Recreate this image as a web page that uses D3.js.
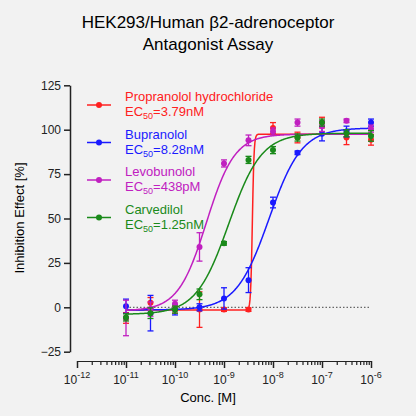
<!DOCTYPE html>
<html><head><meta charset="utf-8">
<script src="https://cdn.jsdelivr.net/npm/d3@7"></script>
<style>body{margin:0;background:#f2f2f2}svg{font-family:Arial,"Liberation Sans",sans-serif}</style>
</head><body><svg id="c" width="416" height="416"></svg>
<script>
const conc = d3.range(11).map(i => Math.pow(10, -11 + 0.5 * i));
const names = ['Propranolol hydrochloride', 'Bupranolol', 'Levobunolol', 'Carvedilol'];
const ecText = ['=3.79nM', '=8.28nM', '=438pM', '=1.25nM'];
const colors = ['#ff2020', '#1a1aff', '#c020c0', '#1a8a1a'];
const propranolol = [-6, 2.5, -1.3, -1.3, -1.3, -1.3, 101, 95.6, 104, 95.6, 94.3];
const propranololErr = [3, 3, 2, 10, 1, 1, 3, 3, 3, 4, 3];
const bupranolol = [0.6, -3.3, -1.3, 0, 5, 15.3, 59, 87, 97.7, 99, 104];
const bupranololErr = [4, 10, 3, 2, 6, 7, 3, 1, 4, 3, 2];
const levobunolol = [-6, -1, 2, 34, 81, 94, 99, 104, 102, 105, 100.6];
const levobunololErr = [10, 4, 2, 8, 2, 3, 2, 2, 3, 1, 2];
const carvedilol = [-5.7, -3.3, -1.3, 7.3, 36, 83, 88.5, 95.6, 104, 98, 96.5];
const carvedilolErr = [2, 3, 2, 3, 1, 2, 2, 2, 2, 2, 3];
// 4PL fit: bottom, top, ec50, hill
const fits = [[-1.5, 97.5, 3.79e-9, 25], [-1.5, 101, 8.28e-9, 1.3], [-2, 97.5, 4.38e-10, 1.5], [-4, 98, 1.25e-9, 1.3]];
const series = [[propranolol, propranololErr], [bupranolol, bupranololErr], [levobunolol, levobunololErr], [carvedilol, carvedilolErr]];

const svg = d3.select('#c');
const x = d3.scaleLog().domain([1e-12, 1e-6]).range([77, 371]);
const y = d3.scaleLinear().domain([-25, 125]).range([351.7, 85.3]);

svg.append('text').attr('x', 208).attr('y', 28).attr('text-anchor', 'middle').attr('font-size', 17).text('HEK293/Human β2-adrenoceptor');
svg.append('text').attr('x', 208).attr('y', 50).attr('text-anchor', 'middle').attr('font-size', 17).text('Antagonist Assay');

const ya = svg.append('g').attr('transform', 'translate(70,0)')
  .call(d3.axisLeft(y).tickValues([-25, 0, 25, 50, 75, 100, 125]).tickSize(6).tickSizeOuter(0));
ya.selectAll('text').attr('font-size', 12).attr('fill', '#222');
ya.selectAll('path,line').attr('stroke', '#222').attr('stroke-width', 1.5);

const minor = [];
for (let e = -12; e < -6; e++) for (let k = 2; k < 10; k++) minor.push(k * Math.pow(10, e));
const xg = svg.append('g').attr('transform', 'translate(0,361)');
xg.call(d3.axisBottom(x).tickValues(minor).tickSize(4).tickFormat('').tickSizeOuter(0));
xg.call(g => g.selectAll('path,line').attr('stroke', '#222').attr('stroke-width', 1.2));
const xm = svg.append('g').attr('transform', 'translate(0,361)')
  .call(d3.axisBottom(x).tickValues(d3.range(-12, -5).map(e => Math.pow(10, e))).tickSize(7).tickFormat(''));
xm.selectAll('path').remove();
xm.selectAll('line').attr('stroke', '#222').attr('stroke-width', 1.5);
d3.range(-12, -5).forEach(e => {
  const t = svg.append('text').attr('x', x(Math.pow(10, e))).attr('y', 384).attr('text-anchor', 'middle').attr('font-size', 12).attr('fill', '#222');
  t.append('tspan').text('10');
  t.append('tspan').attr('dy', -6).attr('font-size', 9).text(e);
});

svg.append('text').attr('x', 208).attr('y', 402).attr('text-anchor', 'middle').attr('font-size', 13).text('Conc. [M]');
svg.append('text').attr('transform', 'translate(24,218) rotate(-90)').attr('text-anchor', 'middle').attr('font-size', 13).text('Inhibition Effect [%]');

svg.append('line').attr('x1', x(1e-11)).attr('x2', x(1e-6)).attr('y1', y(0)).attr('y2', y(0))
  .attr('stroke', '#444').attr('stroke-dasharray', '1.5,2').attr('stroke-width', 1);

const xs = d3.range(0, 501).map(i => Math.pow(10, -11 + 5 * i / 500));
series.forEach(([vals, errs], s) => {
  const [b, t, ec, h] = fits[s];
  const c = colors[s];
  svg.append('path').datum(xs).attr('fill', 'none').attr('stroke', c).attr('stroke-width', 1.5)
    .attr('d', d3.line().x(d => x(d)).y(d => y(b + (t - b) / (1 + Math.pow(ec / d, h)))));
  const g = svg.append('g');
  conc.forEach((cx, i) => {
    const px = x(cx);
    g.append('line').attr('x1', px).attr('x2', px).attr('y1', y(vals[i] - errs[i])).attr('y2', y(vals[i] + errs[i])).attr('stroke', c).attr('stroke-width', 1.3);
    [vals[i] - errs[i], vals[i] + errs[i]].forEach(v => g.append('line').attr('x1', px - 3).attr('x2', px + 3).attr('y1', y(v)).attr('y2', y(v)).attr('stroke', c).attr('stroke-width', 1.3));
    g.append('circle').attr('cx', px).attr('cy', y(vals[i])).attr('r', 3).attr('fill', c);
  });
  const ly = 105 + s * 37.5;
  svg.append('line').attr('x1', 87).attr('x2', 111).attr('y1', ly).attr('y2', ly).attr('stroke', c).attr('stroke-width', 1.5);
  svg.append('circle').attr('cx', 99).attr('cy', ly).attr('r', 3).attr('fill', c);
  svg.append('text').attr('x', 125).attr('y', ly - 4).attr('font-size', 13).attr('fill', c).text(names[s]);
  const et = svg.append('text').attr('x', 125).attr('y', ly + 11).attr('font-size', 13).attr('fill', c);
  et.append('tspan').text('EC');
  et.append('tspan').attr('font-size', 9).attr('dy', 3).text('50');
  et.append('tspan').attr('dy', -3).text(ecText[s]);
});
</script></body></html>
